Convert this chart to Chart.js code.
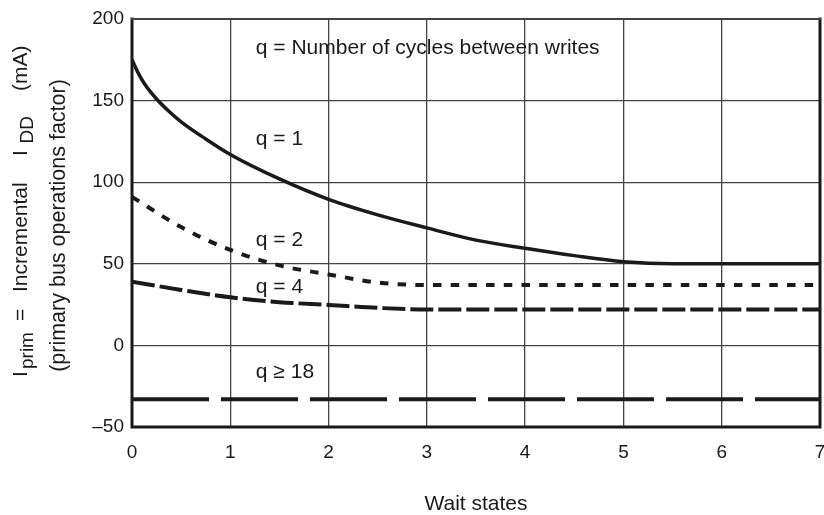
<!DOCTYPE html>
<html>
<head>
<meta charset="utf-8">
<script src="https://cdn.jsdelivr.net/npm/chart.js@4"></script>
<style>
  body { margin: 0; background: #fff; }
  #wrap { width: 824px; height: 515px; }
</style>
</head>
<body>
<div id="wrap"><canvas id="chart" width="824" height="515"></canvas></div>
<script>
  /************************************************
   *  DATA
   ************************************************/
  const xTicks = [0, 1, 2, 3, 4, 5, 6, 7];
  const yTicks = [-50, 0, 50, 100, 150, 200];

  // q = 1 (solid)
  const q1Wait = [0, 0.0625, 0.125, 0.25, 0.375, 0.5, 0.75, 1, 1.5, 2, 2.5, 3, 3.5, 4, 4.5, 5, 5.5, 6, 7];
  const q1Idd  = [175, 167, 160.5, 151, 143.5, 137, 126.5, 117, 102, 89.5, 80, 72, 64.5, 59.5, 55, 51.3, 50, 50, 50];

  // q = 2 (dotted)
  const q2Wait = [0, 0.5, 1, 1.5, 2, 2.5, 3, 4, 5, 6, 7];
  const q2Idd  = [91, 72.5, 58.5, 49, 43.5, 38.5, 37, 37, 37, 37, 37];

  // q = 4 (dashed)
  const q4Wait = [0, 0.5, 1, 1.5, 2, 2.5, 3, 4, 5, 6, 7];
  const q4Idd  = [39, 34, 29.5, 26.5, 24.8, 23, 22, 22, 22, 22, 22];

  // q >= 18 (long dash)
  const q18Wait = [0, 7];
  const q18Idd  = [-33, -33];

  // curve labels, placed in data units
  const noteText = ["q = Number of cycles between writes", "q = 1", "q = 2", "q = 4", "q \u2265 18"];
  const noteX    = [1.26, 1.26, 1.26, 1.26, 1.26];
  const noteY    = [182, 126.5, 64.6, 35.5, -16.7];

  const INK = "#1a1a1a";
  const FONT = "'Liberation Sans', Arial, Helvetica, sans-serif";

  function toPoints(xs, ys) {
    return xs.map((x, i) => ({ x: x, y: ys[i] }));
  }

  /************************************************
   *  FRAME + TEXT PLUGIN
   ************************************************/
  const decorPlugin = {
    id: "decor",
    afterDraw(chart) {
      const ctx = chart.ctx;
      const a = chart.chartArea;
      const xs = chart.scales.x, ys = chart.scales.y;
      ctx.save();

      // frame: thick left/bottom/right, thinner top
      ctx.strokeStyle = INK;
      ctx.lineCap = "square";
      ctx.lineWidth = 3;
      ctx.beginPath();
      ctx.moveTo(a.left, a.top); ctx.lineTo(a.left, a.bottom);
      ctx.lineTo(a.right, a.bottom); ctx.lineTo(a.right, a.top);
      ctx.stroke();
      ctx.lineWidth = 2;
      ctx.strokeStyle = "#444";
      ctx.beginPath();
      ctx.moveTo(a.left, a.top); ctx.lineTo(a.right, a.top);
      ctx.stroke();

      // curve notes
      ctx.fillStyle = INK;
      ctx.font = "21px " + FONT;
      ctx.textAlign = "left";
      ctx.textBaseline = "middle";
      noteText.forEach((t, i) => {
        ctx.fillText(t, xs.getPixelForValue(noteX[i]), ys.getPixelForValue(noteY[i]));
      });

      // rotated y axis title (two lines, with subscripts)
      const midY = (a.top + a.bottom) / 2;
      ctx.textBaseline = "alphabetic";
      ctx.translate(27, midY);
      ctx.rotate(-Math.PI / 2);
      // pieces: [text, page y where the piece starts, subscript?]
      const line1 = [
        ["I", 377, false],
        ["prim", 369, true],
        ["=", 321, false],
        ["Incremental", 292, false],
        ["I", 156, false],
        ["DD", 143.5, true],
        ["(mA)", 91, false]
      ];
      line1.forEach(p => {
        ctx.font = (p[2] ? "19px " : "21px ") + FONT;
        ctx.fillText(p[0], midY - p[1], p[2] ? 6 : 0);
      });
      ctx.font = "21.5px " + FONT;
      ctx.textAlign = "center";
      ctx.fillText("(primary bus operations factor)", midY - 225.5, 38);
      ctx.restore();
    }
  };

  /************************************************
   *  CHART
   ************************************************/
  const ctx = document.getElementById("chart").getContext("2d");
  new Chart(ctx, {
    type: "line",
    data: {
      datasets: [
        {
          label: "q = 1",
          data: toPoints(q1Wait, q1Idd),
          borderColor: INK,
          borderWidth: 3.5,
          cubicInterpolationMode: "monotone",
        },
        {
          label: "q = 2",
          data: toPoints(q2Wait, q2Idd),
          borderColor: INK,
          borderWidth: 4,
          borderDash: [8.5, 9.2],
          cubicInterpolationMode: "monotone",
        },
        {
          label: "q = 4",
          data: toPoints(q4Wait, q4Idd),
          borderColor: INK,
          borderWidth: 4,
          borderDash: [23, 5],
          cubicInterpolationMode: "monotone",
        },
        {
          label: "q >= 18",
          data: toPoints(q18Wait, q18Idd),
          borderColor: INK,
          borderWidth: 4,
          borderDash: [77, 12],
        },
      ],
    },
    options: {
      responsive: false,
      animation: false,
      elements: { point: { radius: 0 } },
      layout: { autoPadding: false, padding: { top: 19, right: 4, left: 0, bottom: 0 } },
      plugins: { legend: { display: false }, tooltip: { enabled: false } },
      scales: {
        x: {
          type: "linear",
          min: 0,
          max: 7,
          afterFit: (s) => {
            s.height = 88;
            s.paddingLeft = 0;
            s.paddingRight = 0;
          },
          afterBuildTicks: (s) => { s.ticks = xTicks.map(v => ({ value: v })); },
          grid: { color: "#444", lineWidth: 1.3, drawTicks: false },
          border: { display: false },
          ticks: {
            padding: 14,
            color: INK,
            font: { family: FONT, size: 19 },
          },
          title: {
            display: true,
            text: "Wait states",
            color: INK,
            padding: { top: 0, bottom: 0 },
            font: { family: FONT, size: 21, lineHeight: 1 },
          },
        },
        y: {
          min: -50,
          max: 200,
          afterFit: (s) => {
            s.width = 132;
            s.paddingTop = 0;
            s.paddingBottom = 0;
          },
          afterBuildTicks: (s) => { s.ticks = yTicks.map(v => ({ value: v })); },
          grid: { color: "#444", lineWidth: 1.3, drawTicks: false },
          border: { display: false },
          ticks: {
            padding: 8,
            color: INK,
            font: { family: FONT, size: 19 },
            callback: (v) => (v < 0 ? "\u2013" + Math.abs(v) : String(v)),
          },
        },
      },
    },
    plugins: [decorPlugin],
  });
</script>
</body>
</html>
